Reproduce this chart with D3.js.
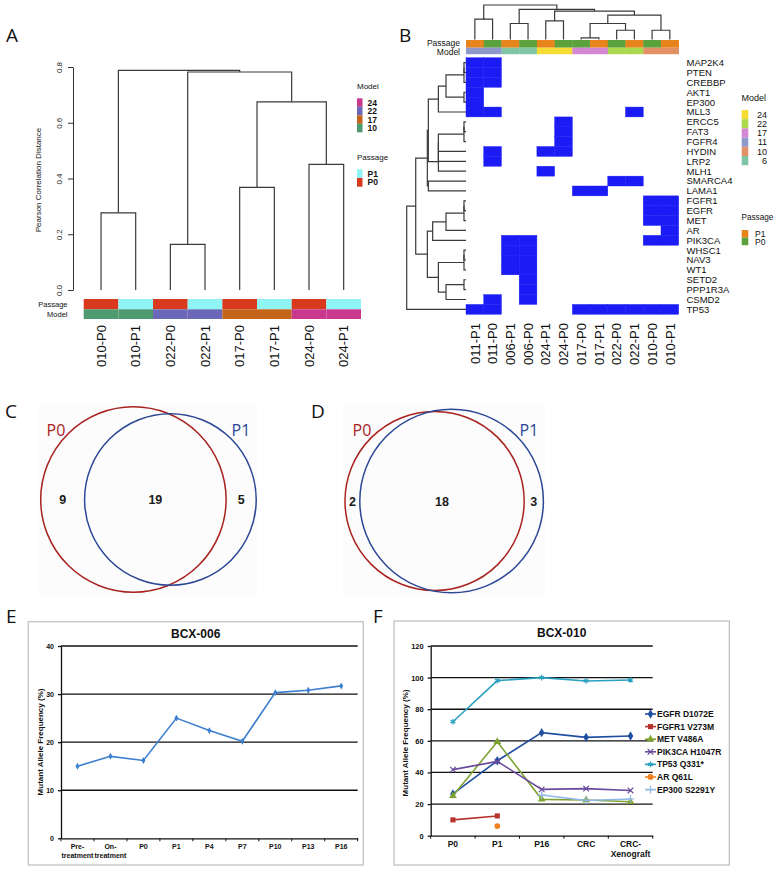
<!DOCTYPE html>
<html><head><meta charset="utf-8">
<script src="https://cdn.jsdelivr.net/npm/d3@7"></script>
<style>
body{margin:0;background:#fff}
svg{display:block}
text{font-family:Arial,"Liberation Sans",sans-serif;fill:#111}
</style>
</head><body>
<svg id="c" width="774" height="870"></svg>
<script>
// ================= DATA =================
// Panel A: dendrogram of samples
const samplesA = ["010-P0","010-P1","022-P0","022-P1","017-P0","017-P1","024-P0","024-P1"];
const passageA = ["P0","P1","P0","P1","P0","P1","P0","P1"];
const modelA   = ["10","10","22","22","17","17","24","24"];
// merge tree: [height, left, right]
const treeA = [0.788, [0.277,"010-P0","010-P1"],
  [0.782, [0.164,"022-P0","022-P1"], [0.675, [0.368,"017-P0","017-P1"], [0.451,"024-P0","024-P1"]]]];
const ticksA = [0, 0.2, 0.4, 0.6, 0.8];
const modelKeysA = ["24","22","17","10"];
const modelColorsA = ["#c8388c","#6b68b8","#c4651c","#4d9970"];
const passageKeysA = ["P1","P0"];
const passageColorsA = ["#8ef4f4","#d93a1e"];

// Panel B: mutation heatmap
const samplesB = ["011-P1","011-P0","006-P1","006-P0","024-P1","024-P0","017-P0","017-P1","022-P0","022-P1","010-P0","010-P1"];
const passageB = ["P1","P0","P1","P0","P1","P0","P0","P1","P0","P1","P0","P1"];
const modelB   = ["11","11","6","6","24","24","17","17","22","22","10","10"];
const genesB = ["MAP2K4","PTEN","CREBBP","AKT1","EP300","MLL3","ERCC5","FAT3","FGFR4","HYDIN","LRP2","MLH1",
  "SMARCA4","LAMA1","FGFR1","EGFR","MET","AR","PIK3CA","WHSC1","NAV3","WT1","SETD2","PPP1R3A","CSMD2","TP53"];
const mutB = [
  "110000000000","110000000000","110000000000","100000000000","100000000000","110000000100",
  "000001000000","000001000000","000001000000","010011000000","010000000000","000010000000",
  "000000001100","000000110000","000000000011","000000000011","000000000011","000000000001",
  "001100000011","001100000000","001100000000","001100000000","000100000000","000100000000",
  "010100000000","110000111111"];
const treeColsB = [1, [0.59,"011-P1","011-P0"],
  [0.875, [0.466,"006-P1","006-P0"],
    [0.825, [0.54,"024-P1","024-P0"],
      [0.71, [0.466, [0.05,"017-P0","017-P1"], [0.27,"022-P0","022-P1"]], [0.27,"010-P0","010-P1"]]]]];
const treeRowsB = [1,
  [0.848,
    [0.652,
      [0.635,
        [0.466, [0.337, [0.034,[0.034,"MAP2K4","PTEN"],"CREBBP"], [0.034,"AKT1","EP300"]], "MLL3"],
        [0.466, [0.466, [0.466, [0.034,[0.034,"ERCC5","FAT3"],"FGFR4"], "HYDIN"], "LRP2"], "MLH1"]],
      [0.635, "SMARCA4","LAMA1"]],
    [0.652,
      [0.562, [0.337, [0.034,[0.034,"FGFR1","EGFR"],"MET"], "AR"], "PIK3CA"],
      [0.466, [0.034,[0.034,"WHSC1","NAV3"],"WT1"], [0.337,[0.034,"SETD2","PPP1R3A"],"CSMD2"]]]],
  "TP53"];
const modelKeysB = ["24","22","17","11","10","6"];
const modelColorsB = ["#f4dc34","#acd84e","#d488d4","#8e98cc","#e29066","#80c4a6"];
const passageKeysB = ["P1","P0"];
const passageColorsB = ["#e8841c","#5ca23c"];

// Panels C, D: Venn counts [P0 only, shared, P1 only]
const vennLabels = ["P0","P1"];
const vennC = [9, 19, 5];
const vennD = [2, 18, 3];

// Panel E: BCX-006
const catsE = ["Pre-\ntreatment","On-\ntreatment","P0","P1","P4","P7","P10","P13","P16"];
const valsE = [15.0, 17.05, 16.2, 25.0, 22.4, 20.2, 30.3, 30.8, 31.7];
const ticksE = [0, 10, 20, 30, 40];

// Panel F: BCX-010
const catsF = ["P0","P1","P16","CRC","CRC-\nXenograft"];
const namesF = ["EGFR D1072E","FGFR1 V273M","MET V486A","PIK3CA H1047R","TP53 Q331*","AR Q61L","EP300 S2291Y"];
const egfrF   = [26.4, 47.4, 65.2, 62.2, 63.1];
const fgfr1F  = [10.0, 12.5, null, null, null];
const metF    = [25.2, 59.4, 23.0, 22.6, 21.5];
const pik3caF = [41.8, 47.0, 29.3, 29.8, 28.6];
const tp53F   = [72.1, 98.1, 100.0, 97.9, 98.5];
const arF     = [null, 6.1, null, null, null];
const ep300F  = [null, null, 25.7, 22.3, 23.2];
const colorsF = ["#1f4fa0","#b5312a","#7fa332","#6a4a9c","#2aa0c0","#f08020","#8fb8e8"];
const ticksF = [0, 20, 40, 60, 80, 100, 120];

// ================= DRAW =================
const svg = d3.select("#c");

// Generic dendrogram drawer: node = [h, left, right] or leaf string
function drawTree(g, node, leafPos, hPos, vertical) {
  if (typeof node === "string") return [leafPos(node), 0];
  const [h, L, R] = node;
  const l = drawTree(g, L, leafPos, hPos, vertical);
  const r = drawTree(g, R, leafPos, hPos, vertical);
  const pts = [[l[0], l[1]], [l[0], h], [r[0], h], [r[0], r[1]]]
    .map(([p, hh]) => vertical ? [p, hPos(hh)] : [hPos(hh), p]);
  g.append("path").attr("d", d3.line()(pts)).attr("fill", "none")
    .attr("stroke", "#3a3a3a").attr("stroke-width", 1.2);
  return [(l[0] + r[0]) / 2, h];
}

// Panel letters
[["A",6,42],["B",399,42],["C",5,418],["D",311,418],["E",6,623],["F",373,623]].forEach(([t,x,y]) =>
  svg.append("text").attr("x", x).attr("y", y).text(t)
    .style("font-family", "'Open Sans',Arial,sans-serif").style("font-size", "19px"));

// ---------- Panel A ----------
{
  const g = svg.append("g");
  const xA = d3.scaleBand().domain(samplesA).range([83.7, 361]);
  const yA = d3.scaleLinear().domain([0, 0.8]).range([290, 67]);
  const ax = g.append("g").attr("transform", "translate(73,0)")
    .call(d3.axisLeft(yA).tickValues(ticksA).tickFormat(d3.format(".1f")).tickSize(5).tickSizeOuter(0));
  ax.selectAll("path,line").attr("stroke", "#333");
  ax.selectAll("text").attr("x", 0).attr("y", -11.5).attr("dy", null).attr("text-anchor", "middle")
    .attr("transform", "rotate(-90)").style("font-size", "8px").style("fill", "#222");
  g.append("text").attr("transform", "translate(38,180) rotate(-90)").attr("text-anchor", "middle")
    .attr("dy", "0.35em").style("font-size", "8px").text("Pearson Correlation Distance");

  drawTree(g, treeA, s => xA(s) + xA.bandwidth() / 2, yA, true);

  const pc = d3.scaleOrdinal().domain(passageKeysA).range(passageColorsA);
  const mc = d3.scaleOrdinal().domain(modelKeysA).range(modelColorsA);
  samplesA.forEach((s, i) => {
    g.append("rect").attr("x", xA(s)).attr("y", 299).attr("width", xA.bandwidth()).attr("height", 10.3).attr("fill", pc(passageA[i]));
    g.append("rect").attr("x", xA(s)).attr("y", 309.3).attr("width", xA.bandwidth()).attr("height", 9.7).attr("fill", mc(modelA[i]));
    g.append("text").attr("transform", `translate(${xA(s) + xA.bandwidth() / 2},325) rotate(-90)`)
      .attr("text-anchor", "end").attr("dy", "0.36em").style("font-size", "13px").text(s);
  });
  g.append("text").attr("x", 67.5).attr("y", 304).attr("dy", "0.35em").attr("text-anchor", "end").style("font-size", "7.5px").text("Passage");
  g.append("text").attr("x", 67.5).attr("y", 314).attr("dy", "0.35em").attr("text-anchor", "end").style("font-size", "7.5px").text("Model");

  // legends
  g.append("text").attr("x", 357).attr("y", 89).style("font-size", "8px").text("Model");
  modelKeysA.forEach((k, i) => {
    g.append("rect").attr("x", 357).attr("y", 98.3 + i * 8.5).attr("width", 5.5).attr("height", 8.5).attr("fill", mc(k));
    g.append("text").attr("x", 367.5).attr("y", 98.3 + i * 8.5 + 4.25).attr("dy", "0.35em")
      .style("font-size", "8.5px").style("font-weight", "bold").text(k);
  });
  g.append("text").attr("x", 357).attr("y", 160).style("font-size", "8px").text("Passage");
  passageKeysA.forEach((k, i) => {
    g.append("rect").attr("x", 357).attr("y", 169.3 + i * 8.7).attr("width", 5.5).attr("height", 8.7).attr("fill", pc(k));
    g.append("text").attr("x", 367.5).attr("y", 169.3 + i * 8.7 + 4.35).attr("dy", "0.35em")
      .style("font-size", "8.5px").style("font-weight", "bold").text(k);
  });
}

// ---------- Panel B ----------
{
  const g = svg.append("g");
  const xB = d3.scaleBand().domain(samplesB).range([466, 678.7]);
  const yB = d3.scaleBand().domain(genesB).range([57.7, 314.3]);
  const pc = d3.scaleOrdinal().domain(passageKeysB).range(passageColorsB);
  const mc = d3.scaleOrdinal().domain(modelKeysB).range(modelColorsB);

  drawTree(g, treeColsB, s => xB(s) + xB.bandwidth() / 2, d3.scaleLinear().domain([0, 1]).range([39.6, 5]), true);
  drawTree(g, treeRowsB, s => yB(s) + yB.bandwidth() / 2, d3.scaleLinear().domain([0, 1]).range([466, 406.7]), false);

  samplesB.forEach((s, j) => {
    g.append("rect").attr("x", xB(s)).attr("y", 40).attr("width", xB.bandwidth() + 0.3).attr("height", 7.7).attr("fill", pc(passageB[j]));
    g.append("rect").attr("x", xB(s)).attr("y", 47.7).attr("width", xB.bandwidth() + 0.3).attr("height", 6.5).attr("fill", mc(modelB[j]));
    g.append("text").attr("transform", `translate(${xB(s) + xB.bandwidth() / 2},323) rotate(-90)`)
      .attr("text-anchor", "end").attr("dy", "0.36em").style("font-size", "13px").text(s);
  });
  g.append("text").attr("x", 460).attr("y", 43.5).attr("dy", "0.35em").attr("text-anchor", "end").style("font-size", "8.5px").text("Passage");
  g.append("text").attr("x", 460).attr("y", 52.5).attr("dy", "0.35em").attr("text-anchor", "end").style("font-size", "8.5px").text("Model");

  genesB.forEach((gene, i) => {
    [...mutB[i]].forEach((v, j) => {
      if (v === "1") g.append("rect").attr("x", xB(samplesB[j])).attr("y", yB(gene))
        .attr("width", xB.bandwidth()).attr("height", yB.bandwidth())
        .attr("fill", "#1b1bf5").attr("stroke", "#1b1bf5").attr("stroke-width", 0.4);
    });
    g.append("text").attr("x", 686.5).attr("y", yB(gene) + yB.bandwidth() / 2).attr("dy", "0.36em")
      .style("font-size", "9.5px").text(gene);
  });

  g.append("text").attr("x", 741.5).attr("y", 97.7).attr("dy", "0.35em").style("font-size", "9px").text("Model");
  modelKeysB.forEach((k, i) => {
    g.append("rect").attr("x", 741.7).attr("y", 110 + i * 9.2).attr("width", 6.6).attr("height", 9.2).attr("fill", mc(k));
    g.append("text").attr("x", 767).attr("y", 110 + i * 9.2 + 4.6).attr("dy", "0.35em").attr("text-anchor", "end")
      .style("font-size", "9px").text(k);
  });
  g.append("text").attr("x", 741.5).attr("y", 217.3).attr("dy", "0.35em").style("font-size", "8.2px").text("Passage");
  passageKeysB.forEach((k, i) => {
    g.append("rect").attr("x", 741.7).attr("y", 230 + i * 7.6).attr("width", 6.6).attr("height", 7.6).attr("fill", pc(k));
    g.append("text").attr("x", 755).attr("y", 230 + i * 8.4 + 3.8).attr("dy", "0.35em")
      .style("font-size", "8.5px").text(k);
  });
}

// ---------- Panels C, D (Venn) ----------
function venn(counts, box, leftEdge, dist, cy, rMax, labelPos) {
  const g = svg.append("g");
  g.append("rect").attr("x", box[0]).attr("y", box[1]).attr("width", box[2]).attr("height", box[3]).attr("fill", "#fcfcfc");
  const totals = [counts[0] + counts[1], counts[1] + counts[2]];
  const r = d3.scaleSqrt().domain([0, d3.max(totals)]).range([0, rMax]);
  const r0 = r(totals[0]), r1 = r(totals[1]);
  const c0 = leftEdge + r0, c1 = c0 + dist;
  const cols = ["#a8221f", "#2b4795"];
  g.append("circle").attr("cx", c0).attr("cy", cy).attr("r", r0).attr("fill", "none").attr("stroke", cols[0]).attr("stroke-width", 1.5);
  g.append("circle").attr("cx", c1).attr("cy", cy).attr("r", r1).attr("fill", "none").attr("stroke", cols[1]).attr("stroke-width", 1.5);
  const xs = [((c0 - r0) + (c1 - r1)) / 2, ((c1 - r1) + (c0 + r0)) / 2, ((c0 + r0) + (c1 + r1)) / 2];
  counts.forEach((n, i) => g.append("text").attr("x", xs[i]).attr("y", cy).attr("dy", "0.36em").attr("text-anchor", "middle")
    .style("font-size", "12.5px").style("font-weight", "bold").style("fill", "#1a1a1a").text(n));
  vennLabels.forEach((t, i) => g.append("text").attr("x", labelPos[i]).attr("y", 430).attr("dy", "0.36em")
    .attr("text-anchor", "middle").style("font-family", "'Open Sans',Arial,sans-serif").style("font-size", "16px")
    .style("fill", cols[i]).text(t));
}
venn(vennC, [38, 405, 219, 190], 40.7, 37, 499.5, 92.7, [56, 241]);
venn(vennD, [343, 405, 202, 190], 345, 17, 501, 91.8, [362, 529]);

// ---------- Line chart helper ----------
function lineChart(opt) {
  const g = svg.append("g");
  g.append("rect").attr("x", opt.box[0]).attr("y", opt.box[1]).attr("width", opt.box[2]).attr("height", opt.box[3])
    .attr("fill", "#fff").attr("stroke", "#bdbdbd").attr("stroke-width", 1.2);
  const x = d3.scaleBand().domain(opt.cats).range(opt.xr);
  const y = d3.scaleLinear().domain([0, d3.max(opt.ticks)]).range(opt.yr);
  opt.ticks.slice(1).forEach(t => g.append("line").attr("x1", opt.xr[0]).attr("x2", opt.xr[1])
    .attr("y1", y(t)).attr("y2", y(t)).attr("stroke", "#111").attr("stroke-width", 1.3));
  const ay = g.append("g").attr("transform", `translate(${opt.xr[0]},0)`)
    .call(d3.axisLeft(y).tickValues(opt.ticks).tickSize(3).tickSizeOuter(0).tickPadding(4));
  ay.selectAll("path,line").attr("stroke", "#111").attr("stroke-width", 1.3);
  ay.selectAll("text").style("font-size", opt.tickFs).style("font-weight", "bold").style("fill", "#111");
  const ax = g.append("g").attr("transform", `translate(0,${opt.yr[0]})`)
    .call(d3.axisBottom(x).tickSize(0).tickSizeOuter(0).tickFormat(""));
  ax.selectAll("path").attr("stroke", "#111").attr("stroke-width", 1.3);
  opt.cats.forEach(c => {
    g.append("line").attr("x1", x(c)).attr("x2", x(c)).attr("y1", opt.yr[0]).attr("y2", opt.yr[0] + 3).attr("stroke", "#111");
    const t = g.append("text").attr("x", x(c) + x.bandwidth() / 2).attr("y", opt.yr[0] + 8.5).attr("text-anchor", "middle")
      .style("font-size", opt.xFs).style("font-weight", "bold").style("fill", "#111");
    c.split("\n").forEach((s, k) => t.append("tspan").attr("x", x(c) + x.bandwidth() / 2).attr("dy", k ? "1.2em" : "0.35em").text(s));
  });
  g.append("line").attr("x1", opt.xr[1]).attr("x2", opt.xr[1]).attr("y1", opt.yr[0]).attr("y2", opt.yr[0] + 3).attr("stroke", "#111");
  g.append("text").attr("x", opt.title[0]).attr("y", opt.title[1]).attr("text-anchor", "middle")
    .style("font-size", "12px").style("font-weight", "bold").text(opt.titleText);
  g.append("text").attr("transform", `translate(${opt.ylab[0]},${opt.ylab[1]}) rotate(-90)`).attr("text-anchor", "middle")
    .attr("dy", "0.35em").style("font-size", "8px").style("font-weight", "bold").text("Mutant Allele Frequency (%)");
  opt.series.forEach(s => {
    const pts = opt.cats.map((c, i) => [x(c) + x.bandwidth() / 2, s.values[i]]);
    g.append("path").attr("d", d3.line().defined(d => d[1] != null).x(d => d[0]).y(d => y(d[1]))(pts))
      .attr("fill", "none").attr("stroke", s.color).attr("stroke-width", 1.6);
    pts.filter(d => d[1] != null).forEach(d => {
      g.append("path").attr("transform", `translate(${d[0]},${y(d[1])})`)
        .attr("d", d3.symbol().type(s.symbol).size(s.size)())
        .attr("fill", s.stroke ? "none" : s.color).attr("stroke", s.stroke ? s.color : "none").attr("stroke-width", 1.2);
    });
  });
  return g;
}

// ---------- Panel E ----------
lineChart({
  box: [28.3, 621.7, 335, 243.3], cats: catsE, xr: [61, 357.7], yr: [838.3, 646], ticks: ticksE,
  tickFs: "7px", xFs: "7px", title: [195.7, 637.5], titleText: "BCX-006", ylab: [40, 742],
  series: [{ values: valsE, color: "#3d7fcf", symbol: d3.symbolDiamond, size: 14 }]
});

// ---------- Panel F ----------
{
  const symsF = [d3.symbolDiamond, d3.symbolSquare, d3.symbolTriangle, d3.symbolX, d3.symbolAsterisk, d3.symbolCircle, d3.symbolPlus];
  const strokeF = [false, false, false, true, true, false, true];
  const valsF = [egfrF, fgfr1F, metF, pik3caF, tp53F, arF, ep300F];
  const series = namesF.map((n, i) => ({ name: n, values: valsF[i], color: colorsF[i], symbol: symsF[i], size: strokeF[i] ? 22 : 26, stroke: strokeF[i] }));
  const g = lineChart({
    box: [394, 621, 335.3, 244], cats: catsF, xr: [430.7, 652.7], yr: [835.7, 646], ticks: ticksF,
    tickFs: "7.5px", xFs: "8.5px", title: [561.7, 637], titleText: "BCX-010", ylab: [405, 743],
    series: series
  });
  series.forEach((s, i) => {
    const yy = 714 + i * 12.6;
    g.append("line").attr("x1", 645).attr("x2", 656).attr("y1", yy).attr("y2", yy).attr("stroke", s.color).attr("stroke-width", 1.6);
    g.append("path").attr("transform", `translate(650.5,${yy})`).attr("d", d3.symbol().type(s.symbol).size(s.size)())
      .attr("fill", s.stroke ? "none" : s.color).attr("stroke", s.stroke ? s.color : "none").attr("stroke-width", 1.2);
    g.append("text").attr("x", 657).attr("y", yy).attr("dy", "0.36em").style("font-size", "8.5px")
      .style("font-weight", "bold").text(s.name);
  });
}
</script>
</body></html>
